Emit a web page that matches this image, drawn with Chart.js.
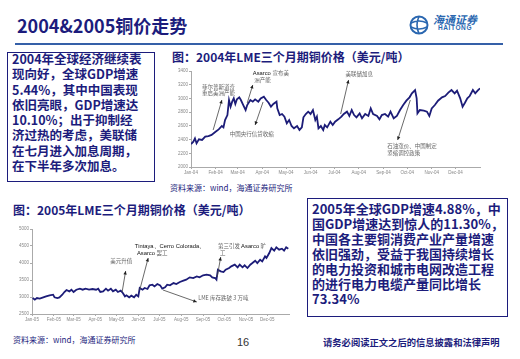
<!DOCTYPE html>
<html><head><meta charset="utf-8">
<script src="https://cdn.jsdelivr.net/npm/chart.js@4.4.1/dist/chart.umd.min.js"></script>
<style>
body{margin:0;width:520px;height:359px;background:#fff;position:relative;overflow:hidden;font-family:"Noto Sans CJK SC","Noto Sans",sans-serif;}
.abs{position:absolute;white-space:nowrap;}
.navy{color:#1c1c7c;}
.box{position:absolute;border:1.5px solid #1c1c7c;box-sizing:border-box;}
</style></head><body>
<div class="abs navy" style="left:17px;top:14px;font-size:18px;font-weight:bold;line-height:22px;">2004&amp;2005铜价走势</div>
<svg class="abs" style="left:408px;top:14px" width="22" height="22" viewBox="0 0 22 22">
 <circle cx="11" cy="11" r="8.5" fill="none" stroke="#2a67b0" stroke-width="2"/>
 <path d="M3 9 Q11 5 19 9 M3 13 Q11 17 19 13 M11 2.5 Q7 11 11 19.5" fill="none" stroke="#2a67b0" stroke-width="1.6"/>
</svg>
<div class="abs" style="left:433px;top:12px;font-size:11px;line-height:14px;color:#2a67b0;font-style:italic;font-weight:bold;">海通证券</div>
<div class="abs" style="left:438px;top:24px;font-size:6.5px;line-height:8px;color:#2a67b0;font-weight:bold;font-family:'Liberation Sans';letter-spacing:0.6px;">HAITONG</div>
<div class="abs" style="left:15px;top:43px;width:488px;height:1.5px;background:#3560a8;"></div>

<div class="box" style="left:7px;top:52px;width:148px;height:130px;"></div>
<div class="abs navy" style="left:12px;top:51px;font-size:12.5px;font-weight:bold;line-height:15.3px;white-space:pre;">2004年全球经济继续表
现向好，全球GDP增速
5.44%，其中中国表现
依旧亮眼，GDP增速达
10.10%；出于抑制经
济过热的考虑，美联储
在七月进入加息周期，
在下半年多次加息。</div>

<div class="abs navy" style="left:172px;top:49px;font-size:12px;font-weight:bold;line-height:16px;">图：2004年LME三个月期铜价格（美元/吨）</div>
<div class="abs" style="left:168px;top:64px;width:316px;height:114px;"><canvas id="c1" width="316" height="114"></canvas></div>
<div class="abs navy" style="left:170px;top:182px;font-size:8px;line-height:12px;">资料来源：wind，海通证券研究所</div>

<div class="abs navy" style="left:13px;top:202px;font-size:12px;font-weight:bold;line-height:16px;">图：2005年LME三个月期铜价格（美元/吨）</div>
<div class="abs" style="left:8px;top:222px;width:286px;height:102px;"><canvas id="c2" width="286" height="102"></canvas></div>
<div class="abs navy" style="left:13px;top:334px;font-size:8px;line-height:12px;">资料来源：wind，海通证券研究所</div>
<div class="abs" style="left:237px;top:335px;font-size:11px;line-height:14px;color:#333;font-family:'Liberation Sans';">16</div>

<div class="box" style="left:307px;top:198px;width:201px;height:119px;"></div>
<div class="abs navy" style="left:312px;top:200.5px;font-size:13px;font-weight:bold;line-height:15px;white-space:pre;">2005年全球GDP增速4.88%，中
国GDP增速达到惊人的11.30%，
中国各主要铜消费产业产量增速
依旧强劲，受益于我国持续增长
的电力投资和城市电网改造工程
的进行电力电缆产量同比增长
73.34%</div>
<div class="abs navy" style="left:323px;top:336px;font-size:9.3px;font-weight:bold;line-height:12px;">请务必阅读正文之后的信息披露和法律声明</div>

<script>
// ---- data ----
const months2004 = ['Jan-04','Feb-04','Mar-04','Apr-04','May-04','Jun-04','Jul-04','Aug-04','Sep-04','Oct-04','Nov-04','Dec-04'];
const months2005 = ['Jan-05','Feb-05','Mar-05','Apr-05','May-05','Jun-05','Jul-05','Aug-05','Sep-05','Oct-05','Nov-05','Dec-05'];
const monthStartDays = [0,31,59,90,120,151,181,212,243,273,304,334];
const yTicks2004 = [2000,2200,2400,2600,2800,3000,3200,3400];
const yTicks2005 = [2500,3000,3500,4000,4500,5000];

const days2004 = [0,3,5,7,10,14,18,22,26,31,35,39,41,43,46,48,50,52,54,56,58,61,63,66,69,71,75,78,81,85,88,92,95,98,101,104,108,109,112,115,118,121,124,127,130,134,137,140,142,145,148,151,154,157,159,161,164,167,169,172,176,179,182,186,190,193,197,200,203,206,209,213,216,220,224,227,230,235,238,241,245,249,252,256,260,264,268,272,276,279,283,285,286,289,294,298,301,304,308,312,317,321,325,329,333,336,340,343,346,349,352,356,359,362,365];
const price2004 = [2335,2370,2418,2345,2403,2394,2442,2452,2467,2515,2549,2598,2578,2685,2758,2977,2880,2953,3001,2919,2987,3016,2977,2904,2831,2904,2977,2953,2987,2953,3001,3026,2977,2938,2880,2919,2953,2855,2758,2773,2734,2637,2685,2598,2564,2598,2540,2578,2724,2773,2807,2773,2831,2685,2734,2564,2598,2540,2612,2578,2661,2612,2661,2695,2734,2773,2807,2744,2831,2758,2724,2782,2710,2773,2744,2855,2773,2744,2695,2758,2773,2734,2807,2710,2744,2831,2904,2967,3016,3074,3122,3001,2782,2831,2821,2807,2744,2855,2904,2967,3016,3035,3084,3122,3074,3113,3001,2880,2938,3001,3035,3122,3074,3113,3147];

const days2005 = [1,4,7,11,16,20,25,30,32,36,39,43,46,49,53,56,59,63,68,72,76,81,86,91,94,97,101,105,108,112,115,119,122,126,129,132,134,138,141,145,148,151,153,157,160,164,167,171,174,178,182,185,189,192,196,201,205,210,215,219,224,229,234,238,243,248,253,256,260,262,264,268,272,275,280,283,288,292,295,299,302,306,310,313,317,320,324,327,331,333,337,340,344,347,351,355,358,361,364];
const price2005 = [2970,2921,2970,2951,2990,3019,3049,3068,2990,2970,2990,3068,3147,3206,3166,3215,3147,3215,3245,3215,3245,3215,3235,3215,3245,3147,3166,3245,3186,3245,3166,3215,3147,3186,3117,3019,3049,2990,3039,2990,3068,3019,3264,3215,3264,3235,3343,3362,3313,3382,3343,3245,3284,3362,3343,3411,3382,3441,3480,3509,3578,3558,3607,3578,3637,3656,3637,3578,3558,3509,3803,3754,3735,3803,3852,3901,3950,3872,3950,3872,3931,3852,3950,3999,4068,3999,4097,4048,4195,4146,4293,4440,4362,4460,4391,4421,4362,4460,4421];

// annotations (in data coordinates: [day, price])
const notes2004 = {
  labels: [
    {at:[14,3167], parts:[{t:'菲尔普斯道奇'}]},
    {at:[14,3079], parts:[{t:'重启美洲产能'}]},
    {at:[78,3371], parts:[{t:'Asarco ',c:'#111',latin:true},{t:'宣布美'}]},
    {at:[80,3269], parts:[{t:'洲产能'}]},
    {at:[49,2481], parts:[{t:'中国央行信贷收缩'}]},
    {at:[195,3356], parts:[{t:'美联储加息'}]},
    {at:[248,2306], parts:[{t:'石油涨价、中国制定'}]},
    {at:[248,2204], parts:[{t:'紧缩调控政策'}]}
  ],
  arrows: [
    {from:[28,2540], to:[39,2977]},
    {from:[71,2933], to:[78,3196]},
    {from:[91,2948], to:[81,2613]},
    {from:[189,2773], to:[199,3269]},
    {from:[277,2977], to:[261,2394]}
  ]
};
const notes2005 = {
  labels: [
    {at:[111,4059], parts:[{t:'美元升值'}]},
    {at:[146,4500], parts:[{t:'Tintaya、Cerro Colorada、',c:'#111',latin:true}]},
    {at:[149,4294], parts:[{t:'Asarco ',c:'#111',latin:true},{t:'罢工'}]},
    {at:[264,4500], parts:[{t:'第三引发 '},{t:'Asarco',c:'#111',latin:true},{t:' 旷'}]},
    {at:[267,4294], parts:[{t:'工'}]},
    {at:[236,2971], parts:[{t:'LME 库存跌破 3 万吨'}]}
  ],
  arrows: [
    {from:[128,3147], to:[133,3765]},
    {from:[153,3206], to:[165,4147]},
    {from:[263,3588], to:[268,4176]},
    {from:[186,3206], to:[234,2853]}
  ]
};

const notesPlugin = {
  id:'notes',
  afterDatasetsDraw(chart, args, opts){
    const ctx = chart.ctx, xs = chart.scales.x, ys = chart.scales.y;
    ctx.save();
    (opts.arrows||[]).forEach(a=>{
      const x1=xs.getPixelForValue(a.from[0]), y1=ys.getPixelForValue(a.from[1]);
      const x2=xs.getPixelForValue(a.to[0]), y2=ys.getPixelForValue(a.to[1]);
      ctx.strokeStyle='#444'; ctx.lineWidth=0.8;
      ctx.beginPath(); ctx.moveTo(x1,y1); ctx.lineTo(x2,y2); ctx.stroke();
      const ang=Math.atan2(y2-y1,x2-x1), L=3.5, W=1.7;
      ctx.fillStyle='#222';
      ctx.beginPath(); ctx.moveTo(x2,y2);
      ctx.lineTo(x2-L*Math.cos(ang)+W*Math.sin(ang), y2-L*Math.sin(ang)-W*Math.cos(ang));
      ctx.lineTo(x2-L*Math.cos(ang)-W*Math.sin(ang), y2-L*Math.sin(ang)+W*Math.cos(ang));
      ctx.closePath(); ctx.fill();
    });
    ctx.textBaseline='middle'; ctx.textAlign='left';
    (opts.labels||[]).forEach(l=>{
      let px = xs.getPixelForValue(l.at[0]); const py = ys.getPixelForValue(l.at[1]);
      l.parts.forEach(p=>{
        ctx.font = p.latin ? '5.8px "Liberation Sans"' : '5.5px "Noto Sans CJK SC"';
        ctx.fillStyle = p.c || '#666';
        ctx.fillText(p.t, px, py);
        px += ctx.measureText(p.t).width;
      });
    });
    ctx.restore();
  }
};

function makeChart(id, days, prices, months, yTicks, yW, xH, pad, notes){
  const tickFont = {family:'Liberation Sans', size:4.5};
  return new Chart(document.getElementById(id), {
    type:'line',
    data:{datasets:[{data: days.map((d,i)=>({x:d, y:prices[i]})), borderColor:'#1c1c78', borderWidth:1.8, pointRadius:0, tension:0, fill:false}]},
    options:{
      responsive:false, animation:false, devicePixelRatio:1,
      layout:{padding:pad},
      plugins:{legend:{display:false}, tooltip:{enabled:false}, notes: notes},
      scales:{
        x:{type:'linear', min:0, max:365,
           afterFit:s=>{s.height=xH;},
           afterBuildTicks:s=>{s.ticks = monthStartDays.map(v=>({value:v}));},
           ticks:{autoSkip:false, maxRotation:0, font:tickFont, color:'#888', padding:1, callback:(v,i)=>months[i]},
           grid:{drawOnChartArea:false, drawTicks:true, tickLength:2, color:'#aaa'},
           border:{display:true, color:'#aaa', width:1}},
        y:{min:yTicks[0], max:yTicks[yTicks.length-1],
           afterFit:s=>{s.width=yW;},
           afterBuildTicks:s=>{s.ticks = yTicks.map(v=>({value:v}));},
           ticks:{font:tickFont, color:'#888', padding:1, callback:v=>String(v)},
           grid:{drawOnChartArea:false, drawTicks:true, tickLength:2, color:'#aaa'},
           border:{display:true, color:'#aaa', width:1}}
      }
    },
    plugins:[notesPlugin]
  });
}
makeChart('c1', days2004, price2004, months2004, yTicks2004, 23, 11, {top:7,right:4,left:0,bottom:0}, notes2004);
makeChart('c2', days2005, price2005, months2005, yTicks2005, 24, 10, {top:7,right:5,left:0,bottom:0}, notes2005);
</script>
</body></html>
